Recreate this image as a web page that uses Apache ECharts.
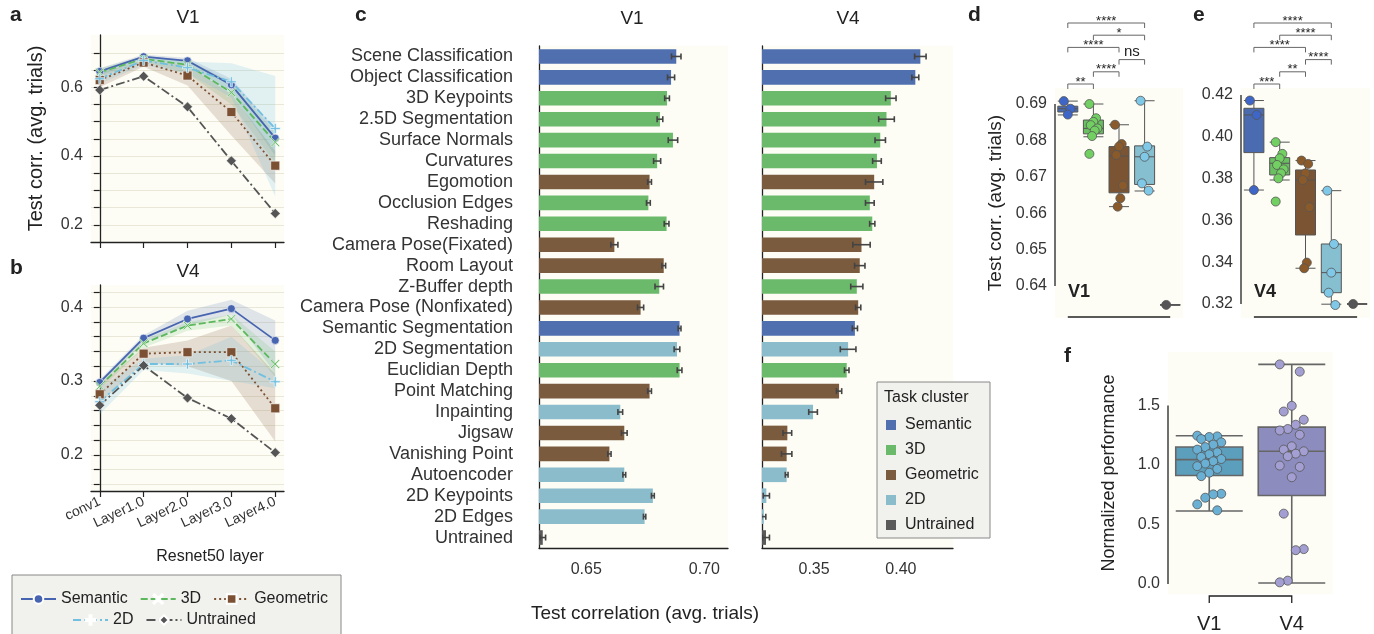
<!DOCTYPE html>
<html>
<head>
<meta charset="utf-8">
<title>ResNet50 task models predicting V1 and V4</title>
<script src="https://cdn.jsdelivr.net/npm/echarts@6.0.0/dist/echarts.min.js"></script>
<style>
html, body { margin: 0; padding: 0; background: #fff; }
#chart { width: 1374px; height: 634px; }
</style>
</head>
<body>
<div id="chart"></div>
<script>
var FONT = "'Liberation Sans', Arial, sans-serif";

// ---- panels a / b : layer-wise test correlation per task cluster ----
var layers = ["conv1", "Layer1.0", "Layer2.0", "Layer3.0", "Layer4.0"];
var clusters = ["Semantic", "3D", "Geometric", "2D", "Untrained"];

// rows follow clusters
var v1Layer = [
  [0.646, 0.689, 0.677, 0.607, 0.452],
  [0.643, 0.683, 0.665, 0.585, 0.440],
  [0.621, 0.672, 0.634, 0.528, 0.372],
  [0.625, 0.678, 0.657, 0.616, 0.480],
  [0.592, 0.632, 0.543, 0.386, 0.233]
];
var v1LayerLow = [
  [0.635, 0.683, 0.665, 0.585, 0.400],
  [0.630, 0.675, 0.640, 0.550, 0.380],
  [0.600, 0.660, 0.605, 0.460, 0.320],
  [0.610, 0.665, 0.640, 0.570, 0.282]
];
var v1LayerHigh = [
  [0.655, 0.695, 0.685, 0.625, 0.480],
  [0.655, 0.690, 0.680, 0.615, 0.470],
  [0.640, 0.680, 0.665, 0.580, 0.415],
  [0.640, 0.690, 0.675, 0.670, 0.633]
];
var v4Layer = [
  [0.298, 0.358, 0.384, 0.398, 0.355],
  [0.293, 0.351, 0.375, 0.384, 0.323],
  [0.282, 0.337, 0.339, 0.339, 0.263],
  [0.272, 0.323, 0.323, 0.328, 0.299],
  [0.267, 0.321, 0.277, 0.249, 0.203]
];
var v4LayerLow = [
  [0.293, 0.352, 0.375, 0.390, 0.310],
  [0.288, 0.345, 0.368, 0.375, 0.305],
  [0.270, 0.325, 0.320, 0.300, 0.218],
  [0.255, 0.315, 0.310, 0.300, 0.290]
];
var v4LayerHigh = [
  [0.302, 0.362, 0.395, 0.410, 0.382],
  [0.298, 0.356, 0.380, 0.390, 0.340],
  [0.295, 0.345, 0.355, 0.375, 0.310],
  [0.290, 0.330, 0.335, 0.360, 0.310]
];

// ---- panel c : per task ----
var tasks = ["Scene Classification", "Object Classification", "3D Keypoints", "2.5D Segmentation",
  "Surface Normals", "Curvatures", "Egomotion", "Occlusion Edges", "Reshading",
  "Camera Pose(Fixated)", "Room Layout", "Z-Buffer depth", "Camera Pose (Nonfixated)",
  "Semantic Segmentation", "2D Segmentation", "Euclidian Depth", "Point Matching",
  "Inpainting", "Jigsaw", "Vanishing Point", "Autoencoder", "2D Keypoints", "2D Edges", "Untrained"];
var taskCluster = [0, 0, 1, 1, 1, 1, 2, 1, 1, 2, 2, 1, 2, 0, 3, 1, 2, 3, 2, 2, 3, 3, 3, 4];
var v1Corr = [0.6881, 0.6859, 0.6842, 0.6812, 0.6867, 0.6800, 0.6768, 0.6763, 0.6840, 0.6619,
  0.6828, 0.6809, 0.6730, 0.6895, 0.6884, 0.6895, 0.6768, 0.6644, 0.6661, 0.6598,
  0.6661, 0.6782, 0.6747, 0.6316];
var v1Err = [0.0020, 0.0015, 0.0010, 0.0012, 0.0020, 0.0015, 0.0008, 0.0008, 0.0010, 0.0015,
  0.0008, 0.0018, 0.0013, 0.0006, 0.0012, 0.0010, 0.0008, 0.0010, 0.0012, 0.0007,
  0.0006, 0.0006, 0.0005, 0.0012];
var v4Corr = [0.4112, 0.4083, 0.3942, 0.3917, 0.3881, 0.3862, 0.3846, 0.3821, 0.3835, 0.3773,
  0.3763, 0.3746, 0.3754, 0.3735, 0.3696, 0.3688, 0.3644, 0.3494, 0.3346, 0.3342,
  0.3342, 0.3225, 0.3210, 0.3223];
var v4Err = [0.0033, 0.0020, 0.0030, 0.0045, 0.0030, 0.0025, 0.0050, 0.0025, 0.0015, 0.0050,
  0.0030, 0.0035, 0.0015, 0.0015, 0.0045, 0.0013, 0.0015, 0.0025, 0.0025, 0.0030,
  0.0008, 0.0018, 0.0012, 0.0020];

// ---- panels d / e : box stats [min, q1, median, q3, max] and task points ----
var v1Box = [
  [0.6870, 0.6878, 0.6887, 0.6894, 0.6908],
  [0.6810, 0.6818, 0.6833, 0.6856, 0.6900],
  [0.6618, 0.6656, 0.6757, 0.6783, 0.6843],
  [0.6661, 0.6679, 0.6755, 0.6785, 0.6909],
  [0.6348, 0.6348, 0.6348, 0.6348, 0.6348]
];
var v1Points = [
  [0.6908, 0.6887, 0.6871],
  [0.6900, 0.6861, 0.6851, 0.6842, 0.6833, 0.6827, 0.6812, 0.6763],
  [0.6843, 0.6790, 0.6783, 0.6760, 0.6676, 0.6641, 0.6618],
  [0.6909, 0.6783, 0.6755, 0.6682, 0.6662],
  [0.6348]
];
var v4Box = [
  [0.3745, 0.3924, 0.4104, 0.4136, 0.4173],
  [0.3793, 0.3817, 0.3873, 0.3900, 0.3974],
  [0.3371, 0.3530, 0.3793, 0.3841, 0.3886],
  [0.3199, 0.3254, 0.3350, 0.3487, 0.3742],
  [0.3200, 0.3200, 0.3200, 0.3200, 0.3200]
];
var v4Points = [
  [0.4173, 0.4104, 0.3745],
  [0.3974, 0.3918, 0.3897, 0.3865, 0.3844, 0.3825, 0.3801, 0.3690],
  [0.3886, 0.3870, 0.3825, 0.3793, 0.3663, 0.3398, 0.3371],
  [0.3742, 0.3487, 0.3350, 0.3254, 0.3195],
  [0.3200]
];
// significance brackets: [from, to, label, row]
var v1Sig = [[0, 3, "****", 5], [1, 3, "*", 4], [0, 2, "****", 3], [2, 3, "ns", 2], [1, 2, "****", 1], [0, 1, "**", 0]];
var v4Sig = [[0, 3, "****", 5], [1, 3, "****", 4], [0, 2, "****", 3], [2, 3, "****", 2], [1, 2, "**", 1], [0, 1, "***", 0]];

// ---- panel f : normalized performance ----
var areas = ["V1", "V4"];
var normBox = [
  [0.613, 0.911, 1.045, 1.151, 1.246],
  [0.008, 0.744, 1.115, 1.318, 1.845]
];
var normPoints = [
  [1.246, 1.240, 1.235, 1.218, 1.190, 1.171, 1.150, 1.129, 1.106, 1.090, 1.068, 1.050,
   1.031, 1.012, 0.990, 0.967, 0.935, 0.906, 0.758, 0.753, 0.725, 0.669, 0.619],
  [1.845, 1.784, 1.497, 1.449, 1.380, 1.338, 1.302, 1.290, 1.254, 1.157, 1.129, 1.115,
   1.095, 1.073, 0.995, 0.984, 0.897, 0.591, 0.293, 0.284, 0.028, 0.014]
];

// tick values
var aTicks = [0.2, 0.25, 0.3, 0.35, 0.4, 0.45, 0.5, 0.55, 0.6, 0.65, 0.7];
var aLabels = [0.2, 0.4, 0.6];
var bTicks = [0.16, 0.18, 0.2, 0.22, 0.24, 0.26, 0.28, 0.3, 0.32, 0.34, 0.36, 0.38, 0.4, 0.42];
var bLabels = [0.2, 0.3, 0.4];
var layerTicks = [0, 1, 2, 3, 4];
var cV1Ticks = [0.65, 0.70];
var cV4Ticks = [0.35, 0.40];
var dTicks = [0.64, 0.65, 0.66, 0.67, 0.68, 0.69];
var eTicks = [0.32, 0.34, 0.36, 0.38, 0.40, 0.42];
var fTicks = [0, 0.5, 1, 1.5];

// styles
var barColor = ["#4f6fae", "#6bba6b", "#7b5b3e", "#8bbccc", "#5a5a5a"];
var lineColor = ["#4764b0", "#5cb85c", "#7b5033", "#72c0e0", "#555555"];
var bandColor = ["rgba(71,100,176,0.16)", "rgba(92,184,92,0.16)", "rgba(123,80,51,0.18)", "rgba(114,192,224,0.2)"];
var lineDash = ["solid", [7, 3], [2, 3], [8, 3, 2, 3], [9, 3, 2, 3]];
var X_PATH = "path://M1,0L5,4L9,0L10,1L6,5L10,9L9,10L5,6L1,10L0,9L4,5L0,1Z";
var PLUS_PATH = "path://M4,0H6V4H10V6H6V10H4V6H0V4H4Z";
var lineSymbol = ["circle", X_PATH, "rect", PLUS_PATH, "diamond"];
var lineSymbolSize = [8, 9, 9, 10, 10];
var boxColor = ["#4a6bb0", "#6abf60", "#7b5533", "#86bfd0", "#555555"];
var dotColor = ["#3d66c8", "#72d062", "#8b5a2b", "#80c8e8", "#555555"];
var normBoxColor = ["#5b9fbd", "#8c8cbf"];
var normDotColor = ["#6ab0d4", "#a49fd2"];
var INK = "#222";
var CREAM = "#fdfdf5";

var chart = echarts.init(document.getElementById("chart"));

// band: one polygon through all the (layer, low, high) items of the series
function bandRender(color) {
  return function (params, api) {
    if (params.dataIndexInside !== 0) return null;
    var n = params.dataInsideLength;
    var top = [], bot = [];
    for (var j = 0; j < n; j++) {
      var x = api.value(0, j);
      top.push(api.coord([x, api.value(2, j)]));
      bot.unshift(api.coord([x, api.value(1, j)]));
    }
    return { type: "polygon", shape: { points: top.concat(bot) }, style: { fill: color } };
  };
}

function layerSeries(means, lows, highs, gi) {
  var out = [];
  means.forEach(function (row, c) {
    if (lows[c]) {
      out.push({
        type: "custom", name: clusters[c] + " band" + gi, xAxisIndex: gi, yAxisIndex: gi,
        silent: true, z: 1, renderItem: bandRender(bandColor[c]),
        data: lows[c].map(function (v, i) { return [layerTicks[i], v, highs[c][i]]; })
      });
    }
    out.push({
      type: "line", name: clusters[c], xAxisIndex: gi, yAxisIndex: gi, z: 3,
      symbol: lineSymbol[c], symbolSize: lineSymbolSize[c],
      lineStyle: { color: lineColor[c], width: 1.8, type: lineDash[c] },
      itemStyle: { color: lineColor[c], borderColor: "#fff", borderWidth: 0.6 },
      data: row.map(function (v, i) { return [layerTicks[i], v]; })
    });
  });
  return out;
}

function errRender(params, api) {
  var v = api.value(0), y = api.value(1), e = api.value(2);
  var a = api.coord([v - e, y]), b = api.coord([v + e, y]);
  var st = { stroke: "#444", lineWidth: 1.6 };
  return {
    type: "group", children: [
      { type: "line", shape: { x1: a[0], y1: a[1], x2: b[0], y2: b[1] }, style: st },
      { type: "line", shape: { x1: a[0], y1: a[1] - 3, x2: a[0], y2: a[1] + 3 }, style: st },
      { type: "line", shape: { x1: b[0], y1: b[1] - 3, x2: b[0], y2: b[1] + 3 }, style: st }
    ]
  };
}

function stripRender(colors, r, spread) {
  return function (params, api) {
    var cat = api.value(0), v = api.value(1), k = api.value(2);
    var p = api.coord([cat, v]);
    var dx = ((((k * 5) % 7) - 3) / 3) * spread;
    return {
      type: "circle", shape: { cx: p[0] + dx, cy: p[1], r: r },
      style: { fill: colors[cat], stroke: "#555", lineWidth: 0.8 }
    };
  };
}

function sigRender(sig) {
  return function (params, api) {
    var s = sig[params.dataIndex];
    var cs = params.coordSys;
    var x1 = api.coord([s[0], 0])[0], x2 = api.coord([s[1], 0])[0];
    var y = cs.y - 4 - s[3] * 12.2;
    var isNs = s[2] === "ns";
    return {
      type: "group", children: [
        { type: "polyline", shape: { points: [[x1, y + 5], [x1, y], [x2, y], [x2, y + 5]] },
          style: { stroke: "#666", lineWidth: 1, fill: null } },
        { type: "text", x: (x1 + x2) / 2, y: isNs ? y - 8 : y - 2,
          style: { text: s[2], fill: INK, font: (isNs ? "15px " : "13px ") + FONT, align: "center", verticalAlign: "middle" } }
      ]
    };
  };
}

function spineRender(nCat, bracket) {
  return function (params, api) {
    var cs = params.coordSys;
    var lo = api.value(1), hi = api.value(2);
    var top = api.coord([0, hi])[1], bot = api.coord([0, lo])[1];
    var xa = api.coord([0, lo])[0], xb = api.coord([nCat - 1, lo])[0];
    var st = { stroke: INK, lineWidth: 1.3 };
    var kids = [{ type: "line", shape: { x1: cs.x, y1: top, x2: cs.x, y2: bot }, style: st }];
    if (bracket) {
      var yb = cs.y + cs.height + 2;
      kids.push({ type: "polyline", shape: { points: [[xa, yb + 7], [xa, yb], [xb, yb], [xb, yb + 7]] },
        style: { stroke: INK, lineWidth: 1.3, fill: null } });
    } else {
      var yb2 = cs.y + cs.height - 1;
      kids.push({ type: "line", shape: { x1: xa, y1: yb2, x2: xb, y2: yb2 }, style: st });
    }
    return { type: "group", children: kids };
  };
}

function stripData(points) {
  var out = [];
  points.forEach(function (row, c) {
    row.forEach(function (v, k) { out.push([c, v, k]); });
  });
  return out;
}

function gridOf(left, top, width, height) {
  return { left: left, top: top, width: width, height: height, show: true, backgroundColor: CREAM, borderWidth: 0 };
}

var axLine = { show: true, lineStyle: { color: INK, width: 1.3 } };
var tickStyle = { color: INK, width: 1.2 };
function fmt(d) { return function (v) { return Number(v).toFixed(d); }; }

var xAxes = [
  // a
  { gridIndex: 0, type: "value", min: -0.2, max: 4.2, axisLine: axLine, splitLine: { show: false },
    axisTick: { customValues: layerTicks, length: 6, lineStyle: tickStyle }, axisLabel: { show: false } },
  // b
  { gridIndex: 1, type: "value", min: -0.2, max: 4.2, axisLine: axLine, splitLine: { show: false },
    axisTick: { customValues: layerTicks, length: 6, lineStyle: tickStyle },
    axisLabel: { customValues: layerTicks, rotate: 25, fontSize: 14, color: "#333", margin: 10,
      formatter: function (v) { return layers[Math.round(v)]; } } },
  // c V1
  { gridIndex: 2, type: "value", min: 0.63, max: 0.71, axisLine: axLine, splitLine: { show: false },
    axisTick: { customValues: cV1Ticks, length: 8, lineStyle: tickStyle },
    axisLabel: { customValues: cV1Ticks, formatter: fmt(2), fontSize: 16, color: "#333", margin: 14 } },
  // c V4
  { gridIndex: 3, type: "value", min: 0.32, max: 0.43, axisLine: axLine, splitLine: { show: false },
    axisTick: { customValues: cV4Ticks, length: 8, lineStyle: tickStyle },
    axisLabel: { customValues: cV4Ticks, formatter: fmt(2), fontSize: 16, color: "#333", margin: 14 } },
  // d
  { gridIndex: 4, type: "category", data: clusters, axisLine: { show: false }, axisTick: { show: false }, axisLabel: { show: false } },
  // e
  { gridIndex: 5, type: "category", data: clusters, axisLine: { show: false }, axisTick: { show: false }, axisLabel: { show: false } },
  // f
  { gridIndex: 6, type: "category", data: areas, axisLine: { show: false }, axisTick: { show: false },
    axisLabel: { fontSize: 20, color: INK, margin: 20 } }
];

var yAxes = [
  { gridIndex: 0, type: "value", min: 0.15, max: 0.752, axisLine: axLine,
    name: "Test corr. (avg. trials)", nameLocation: "middle", nameGap: 45,
    nameTextStyle: { fontSize: 20, color: INK },
    axisTick: { customValues: aTicks, length: 6, lineStyle: tickStyle },
    axisLabel: { customValues: aLabels, formatter: fmt(1), fontSize: 16, color: "#333" },
    splitLine: { show: true, lineStyle: { color: "#e9e8d8", width: 1 } } },
  { gridIndex: 1, type: "value", min: 0.151, max: 0.43, axisLine: axLine,
    axisTick: { customValues: bTicks, length: 6, lineStyle: tickStyle },
    axisLabel: { customValues: bLabels, formatter: fmt(1), fontSize: 16, color: "#333" },
    splitLine: { show: true, lineStyle: { color: "#e9e8d8", width: 1 } } },
  { gridIndex: 2, type: "category", data: tasks, inverse: true, axisLine: axLine,
    axisTick: { alignWithLabel: true, length: 10, lineStyle: { color: "#555", width: 1 } },
    axisLabel: { interval: 0, fontSize: 18, color: "#333", margin: 26 } },
  { gridIndex: 3, type: "category", data: tasks, inverse: true, axisLine: axLine,
    axisTick: { show: false }, axisLabel: { show: false } },
  { gridIndex: 4, type: "value", min: 0.6312, max: 0.6944, axisLine: { show: false }, splitLine: { show: false },
    name: "Test corr. (avg. trials)", nameLocation: "middle", nameGap: 50,
    nameTextStyle: { fontSize: 19, color: INK },
    axisTick: { customValues: dTicks, length: 6, lineStyle: tickStyle },
    axisLabel: { customValues: dTicks, formatter: fmt(2), fontSize: 16, color: "#333" } },
  { gridIndex: 5, type: "value", min: 0.3133, max: 0.4233, axisLine: { show: false }, splitLine: { show: false },
    axisTick: { customValues: eTicks, length: 6, lineStyle: tickStyle },
    axisLabel: { customValues: eTicks, formatter: fmt(2), fontSize: 16, color: "#333" } },
  { gridIndex: 6, type: "value", min: -0.084, max: 1.949, axisLine: { show: false }, splitLine: { show: false },
    name: "Normalized performance", nameLocation: "middle", nameGap: 50,
    nameTextStyle: { fontSize: 18, color: INK },
    axisTick: { customValues: fTicks, length: 6, lineStyle: tickStyle },
    axisLabel: { customValues: fTicks, formatter: fmt(1), fontSize: 16, color: "#333" } }
];

var series = []
  .concat(layerSeries(v1Layer, v1LayerLow, v1LayerHigh, 0))
  .concat(layerSeries(v4Layer, v4LayerLow, v4LayerHigh, 1));

// panel c bars + error bars
[[v1Corr, v1Err, 2], [v4Corr, v4Err, 3]].forEach(function (p) {
  series.push({
    type: "bar", xAxisIndex: p[2], yAxisIndex: p[2], barWidth: "70%", silent: true,
    data: p[0].map(function (v, i) { return { value: v, itemStyle: { color: barColor[taskCluster[i]] } }; })
  });
  series.push({
    type: "custom", xAxisIndex: p[2], yAxisIndex: p[2], clip: true, silent: true, z: 4,
    renderItem: errRender,
    data: p[0].map(function (v, i) { return [v, i, p[1][i]]; })
  });
});

// panels d, e
[[v1Box, v1Points, v1Sig, 4, dTicks], [v4Box, v4Points, v4Sig, 5, eTicks]].forEach(function (p) {
  series.push({
    type: "boxplot", xAxisIndex: p[3], yAxisIndex: p[3], boxWidth: [20, 20], silent: true,
    data: p[0].map(function (b, i) {
      return { value: b, itemStyle: { color: boxColor[i], borderColor: "#555", borderWidth: 1 } };
    })
  });
  series.push({
    type: "custom", xAxisIndex: p[3], yAxisIndex: p[3], silent: true, z: 5,
    renderItem: stripRender(dotColor, 4.5, 4), data: stripData(p[1])
  });
  series.push({
    type: "custom", xAxisIndex: p[3], yAxisIndex: p[3], silent: true, clip: false, z: 5,
    renderItem: sigRender(p[2]),
    data: p[2].map(function (s) { return [s[0], s[1], s[3]]; })
  });
  series.push({
    type: "custom", xAxisIndex: p[3], yAxisIndex: p[3], silent: true, clip: false, z: 5,
    renderItem: spineRender(clusters.length, false),
    data: [[0, p[4][0], p[4][p[4].length - 1]]]
  });
});

// panel f
series.push({
  type: "boxplot", xAxisIndex: 6, yAxisIndex: 6, boxWidth: [67, 67], silent: true,
  data: normBox.map(function (b, i) {
    return { value: b, itemStyle: { color: normBoxColor[i], borderColor: "#666", borderWidth: 1.6 } };
  })
});
series.push({
  type: "custom", xAxisIndex: 6, yAxisIndex: 6, silent: true, z: 5,
  renderItem: stripRender(normDotColor, 4.5, 12), data: stripData(normPoints)
});
series.push({
  type: "custom", xAxisIndex: 6, yAxisIndex: 6, silent: true, clip: false, z: 5,
  renderItem: spineRender(areas.length, true),
  data: [[0, fTicks[0], fTicks[fTicks.length - 1]]]
});

function txt(text, x, y, size, opts) {
  opts = opts || {};
  return {
    type: "text", x: x, y: y, z: 20, silent: true,
    style: {
      text: text, fill: opts.fill || INK,
      font: (opts.bold ? "bold " : "") + size + "px " + FONT,
      align: opts.align || "center", verticalAlign: "middle"
    }
  };
}

var graphics = [
  txt("a", 10, 15, 21, { bold: true, align: "left" }),
  txt("b", 10, 268, 21, { bold: true, align: "left" }),
  txt("c", 355, 15, 21, { bold: true, align: "left" }),
  txt("d", 968, 15, 21, { bold: true, align: "left" }),
  txt("e", 1193, 15, 21, { bold: true, align: "left" }),
  txt("f", 1064, 356, 21, { bold: true, align: "left" }),
  txt("V1", 188, 18, 19),
  txt("V4", 188, 272, 19),
  txt("V1", 632, 19, 19),
  txt("V4", 848, 19, 19),
  txt("Resnet50 layer", 210, 557, 16),
  txt("Test correlation (avg. trials)", 645, 614, 19),
  txt("V1", 1079, 292, 18, { bold: true }),
  txt("V4", 1265, 292, 18, { bold: true }),
  { type: "rect", x: 12, y: 575, z: 0, silent: true, shape: { width: 329, height: 62 },
    style: { fill: "#f1f1ed", stroke: "#888", lineWidth: 1 } },
  { type: "rect", x: 877, y: 382, z: 15, silent: true, shape: { width: 113, height: 156 },
    style: { fill: "#f1f1ed", stroke: "#888", lineWidth: 1 } },
  txt("Task cluster", 884, 398, 16, { align: "left" })
];
clusters.forEach(function (c, i) {
  var y = 425 + i * 25;
  graphics.push({ type: "rect", x: 886, y: y - 5, z: 20, silent: true, shape: { width: 10, height: 10 },
    style: { fill: barColor[i] } });
  graphics.push(txt(c, 905, y, 16, { align: "left" }));
});

var legendBase = {
  orient: "horizontal", itemWidth: 35, itemHeight: 12, itemGap: 12, selectedMode: false,
  textStyle: { fontSize: 16, color: INK, fontFamily: FONT }, z: 5
};

var option = {
  animation: false,
  textStyle: { fontFamily: FONT },
  grid: [
    gridOf(91, 35, 193, 207),
    gridOf(91, 285, 193, 206),
    gridOf(539, 46, 189, 502),
    gridOf(762, 46, 191, 502),
    gridOf(1055, 88, 128, 230),
    gridOf(1241, 88, 129, 230),
    gridOf(1168, 352, 165, 243)
  ],
  legend: [
    Object.assign({}, legendBase, { left: 15, top: 586, data: ["Semantic", "3D", "Geometric"] }),
    Object.assign({}, legendBase, { left: 67, top: 607, data: ["2D", "Untrained"] })
  ],
  xAxis: xAxes,
  yAxis: yAxes,
  series: series,
  graphic: graphics
};

chart.setOption(option);
</script>
</body>
</html>
